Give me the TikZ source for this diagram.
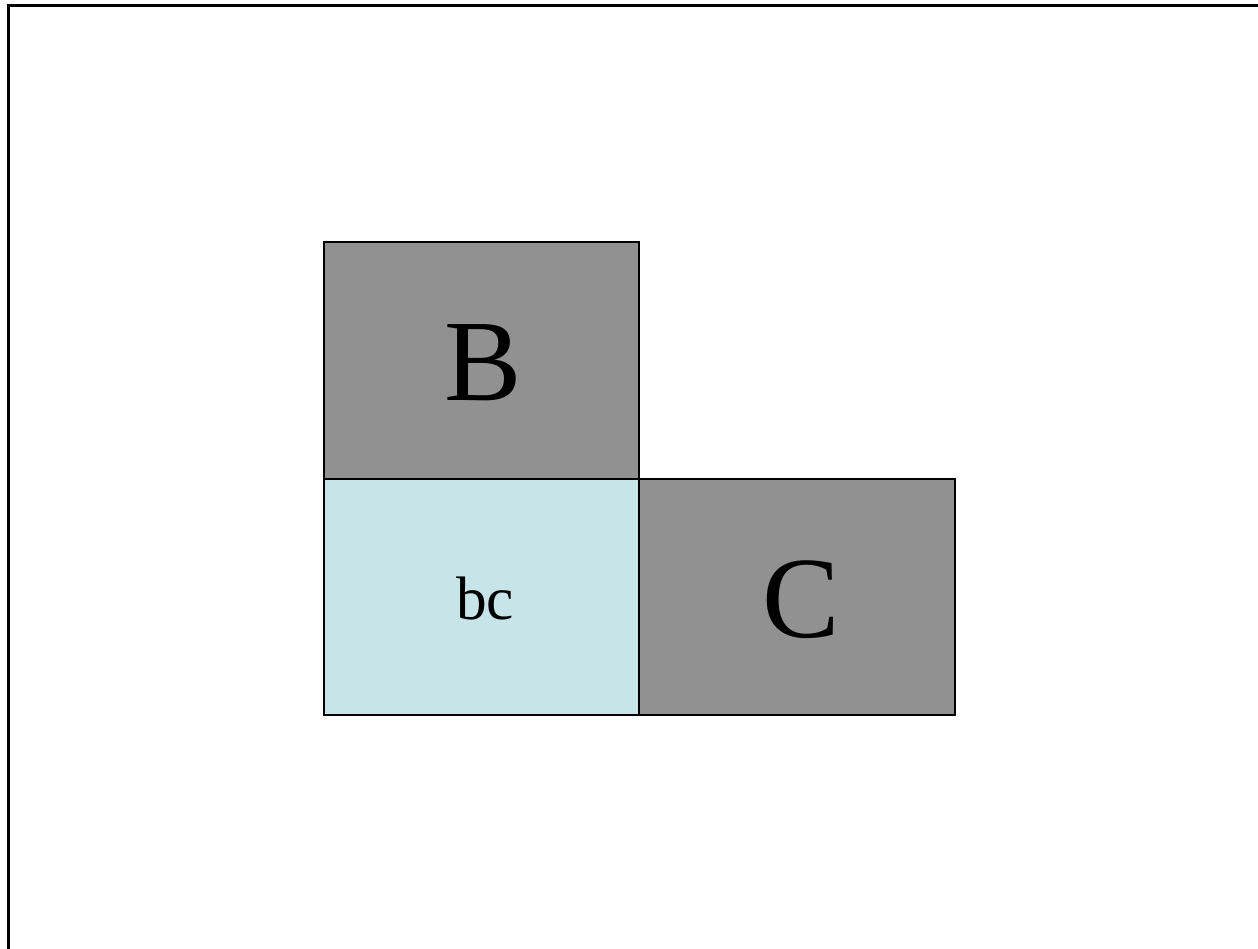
\documentclass[tikz,border=0pt]{standalone}
\usepackage{fontspec}
\setmainfont{Liberation Serif}
\definecolor{boxgray}{HTML}{919191}
\definecolor{boxblue}{HTML}{C7E5E9}
\begin{document}
\begin{tikzpicture}[x=0.75pt,y=-0.75pt,
  cell/.style={draw=black,line width=1.5pt},
  lab/.style={inner sep=0pt,text=black}]
\useasboundingbox (0,0) rectangle (1258,949);
\draw[line width=2pt] (8.7,960) -- (8.7,5.5) -- (1270,5.5);
\path[cell,fill=boxgray] (324,242) rectangle (639,479);
\path[cell,fill=boxblue] (324,479) rectangle (639,715);
\path[cell,fill=boxgray] (639,479) rectangle (955,715);
\node[lab,font=\fontsize{87}{90}\selectfont] (B) at (483,363) {B};
\node[lab,font=\fontsize{46}{50}\selectfont] (bc) at (485,599) {bc};
\node[lab,font=\fontsize{87}{90}\selectfont] (C) at (801,600) {C};
\end{tikzpicture}
\end{document}
